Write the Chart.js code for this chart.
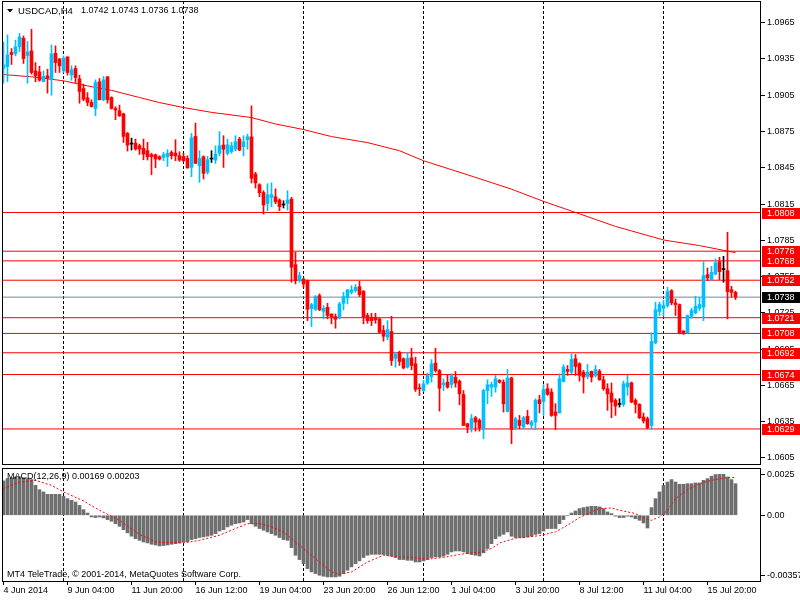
<!DOCTYPE html>
<html>
<head>
<meta charset="utf-8">
<title>USDCAD,H4</title>
<script src="https://cdn.jsdelivr.net/npm/chart.js@4.4.1/dist/chart.umd.min.js"></script>
<style>
  html, body { margin: 0; padding: 0; background: #fff; }
  #wrap { position: relative; width: 800px; height: 600px; overflow: hidden; }
  #priceChart { position: absolute; left: 0; top: 0; }
  #macdChart { position: absolute; left: 0; top: 467px; }
</style>
</head>
<body>
<div id="wrap">
  <canvas id="priceChart" width="800" height="467"></canvas>
  <canvas id="macdChart" width="800" height="133"></canvas>
</div>
<script>
const FONT = "'Liberation Sans', Arial, sans-serif";
const BULL = '#00bfff';
const BEAR = '#ff0000';
const DOJI = '#000000';

// Header texts
const symbolTitle = 'USDCAD,H4';
const lastOHLC = ['1.0742', '1.0743', '1.0736', '1.0738'];
const macdTitle = 'MACD(12,26,9) 0.00169 0.00203';
const copyright = 'MT4 TeleTrade, \u00A9 2001-2014, MetaQuotes Software Corp.';

// H4 candles, one per bar (bar 0 = 4 Jun 12:00)
const opens = [
  1.09271,1.09287,1.09403,1.09394,1.09450,1.09521,1.09378,1.09416,1.09251,1.09243,
  1.09163,1.09210,1.09183,1.09397,1.09350,1.09251,1.09367,1.09218,1.09271,1.09185,
  1.09105,1.09028,1.08990,1.08940,1.09161,1.09012,1.09202,1.09031,1.08940,1.08921,
  1.08896,1.08734,1.08646,1.08654,1.08632,1.08610,1.08591,1.08558,1.08558,1.08541,
  1.08536,1.08541,1.08577,1.08571,1.08549,1.08544,1.08527,1.08453,1.08709,1.08467,
  1.08541,1.08412,1.08522,1.08514,1.08569,1.08638,1.08569,1.08583,1.08604,1.08687,
  1.08624,1.08682,1.08706,1.08398,1.08310,1.08246,1.08155,1.08205,1.08210,1.08183,
  1.08142,1.08155,1.08191,1.07649,1.07517,1.07530,1.07517,1.07285,1.07280,1.07393,
  1.07263,1.07296,1.07241,1.07219,1.07219,1.07329,1.07374,1.07420,1.07434,1.07467,
  1.07429,1.07228,1.07214,1.07214,1.07200,1.07104,1.07049,1.07096,1.06875,1.06925,
  1.06870,1.06801,1.06878,1.06829,1.06630,1.06608,1.06669,1.06724,1.06834,1.06773,
  1.06655,1.06677,1.06658,1.06718,1.06685,1.06575,1.06333,1.06300,1.06383,1.06361,
  1.06286,1.06608,1.06636,1.06636,1.06691,1.06677,1.06435,1.06713,1.06300,1.06361,
  1.06306,1.06394,1.06320,1.06348,1.06532,1.06518,1.06623,1.06595,1.06430,1.06422,
  1.06683,1.06782,1.06760,1.06871,1.06829,1.06760,1.06725,1.06766,1.06733,1.06769,
  1.06697,1.06623,1.06587,1.06526,1.06493,1.06493,1.06637,1.06672,1.06526,1.06493,
  1.06389,1.06375,1.06319,1.07002,1.07261,1.07288,1.07310,1.07434,1.07332,1.07319,
  1.07101,1.07085,1.07222,1.07250,1.07288,1.07297,1.07566,1.07525,1.07572,1.07674,
  1.07608,1.07599,1.07442,1.07420
];
const highs = [
  1.09491,1.09549,1.09436,1.09505,1.09560,1.09540,1.09494,1.09595,1.09320,1.09290,
  1.09251,1.09265,1.09466,1.09458,1.09353,1.09375,1.09367,1.09293,1.09293,1.09216,
  1.09141,1.09072,1.09012,1.09177,1.09188,1.09205,1.09205,1.09037,1.08954,1.08968,
  1.08902,1.08742,1.08695,1.08687,1.08646,1.08687,1.08660,1.08571,1.08563,1.08549,
  1.08577,1.08599,1.08591,1.08682,1.08583,1.08569,1.08549,1.08734,1.08819,1.08591,
  1.08549,1.08544,1.08591,1.08632,1.08748,1.08715,1.08687,1.08660,1.08715,1.08701,
  1.08715,1.08728,1.08962,1.08412,1.08318,1.08260,1.08318,1.08326,1.08276,1.08194,
  1.08177,1.08260,1.08205,1.07751,1.07586,1.07539,1.07522,1.07329,1.07393,1.07407,
  1.07310,1.07329,1.07241,1.07241,1.07338,1.07420,1.07445,1.07475,1.07484,1.07511,
  1.07434,1.07247,1.07247,1.07247,1.07208,1.07145,1.07186,1.07222,1.06925,1.06933,
  1.06878,1.06925,1.06958,1.06884,1.06663,1.06691,1.06752,1.06864,1.06958,1.06782,
  1.06705,1.06740,1.06746,1.06765,1.06696,1.06608,1.06338,1.06410,1.06394,1.06374,
  1.06617,1.06696,1.06677,1.06732,1.06699,1.06696,1.06782,1.06718,1.06388,1.06402,
  1.06394,1.06444,1.06361,1.06540,1.06568,1.06656,1.06664,1.06623,1.06499,1.06747,
  1.06821,1.06815,1.06912,1.06906,1.06838,1.06774,1.06824,1.06769,1.06815,1.06782,
  1.06727,1.06664,1.06670,1.06540,1.06540,1.06686,1.06733,1.06678,1.06540,1.06499,
  1.06422,1.06389,1.07085,1.07338,1.07338,1.07352,1.07462,1.07442,1.07365,1.07324,
  1.07101,1.07233,1.07288,1.07387,1.07379,1.07674,1.07621,1.07635,1.07696,1.07710,
  1.07718,1.07916,1.07470,1.07430
];
const lows = [
  1.09149,1.09163,1.09304,1.09375,1.09411,1.09312,1.09149,1.09224,1.09161,1.09166,
  1.09161,1.09067,1.09050,1.09238,1.09238,1.09238,1.09216,1.09174,1.09155,1.08984,
  1.09004,1.08962,1.08951,1.08880,1.09012,1.09004,1.08984,1.08935,1.08847,1.08874,
  1.08659,1.08588,1.08596,1.08596,1.08560,1.08516,1.08514,1.08393,1.08450,1.08514,
  1.08508,1.08461,1.08522,1.08508,1.08503,1.08503,1.08448,1.08376,1.08486,1.08329,
  1.08357,1.08398,1.08494,1.08486,1.08549,1.08453,1.08555,1.08569,1.08591,1.08591,
  1.08549,1.08604,1.08324,1.08282,1.08211,1.08067,1.08095,1.08128,1.08153,1.08095,
  1.08117,1.08100,1.07503,1.07489,1.07503,1.07462,1.07186,1.07137,1.07269,1.07269,
  1.07200,1.07200,1.07159,1.07123,1.07200,1.07274,1.07324,1.07407,1.07420,1.07385,
  1.07159,1.07164,1.07145,1.07164,1.07082,1.07016,1.07027,1.06815,1.06801,1.06815,
  1.06787,1.06793,1.06779,1.06600,1.06567,1.06600,1.06658,1.06677,1.06760,1.06438,
  1.06608,1.06627,1.06630,1.06636,1.06490,1.06319,1.06259,1.06264,1.06272,1.06272,
  1.06209,1.06498,1.06559,1.06594,1.06669,1.06430,1.06430,1.06168,1.06286,1.06292,
  1.06292,1.06328,1.06292,1.06284,1.06422,1.06402,1.06568,1.06394,1.06284,1.06422,
  1.06678,1.06733,1.06747,1.06733,1.06686,1.06587,1.06705,1.06678,1.06719,1.06692,
  1.06609,1.06444,1.06383,1.06402,1.06471,1.06477,1.06568,1.06507,1.06422,1.06375,
  1.06339,1.06292,1.06286,1.06994,1.07228,1.07222,1.07297,1.07316,1.07228,1.07076,
  1.07071,1.07082,1.07206,1.07241,1.07269,1.07186,1.07517,1.07517,1.07564,1.07525,
  1.07503,1.07200,1.07379,1.07360
];
const closes = [
  1.09301,1.09383,1.09386,1.09450,1.09532,1.09353,1.09408,1.09238,1.09210,1.09174,
  1.09205,1.09191,1.09392,1.09320,1.09293,1.09356,1.09238,1.09260,1.09196,1.09081,
  1.09017,1.08990,1.08957,1.09155,1.09012,1.09177,1.09012,1.08940,1.08927,1.08880,
  1.08709,1.08637,1.08646,1.08604,1.08604,1.08563,1.08541,1.08541,1.08522,1.08522,
  1.08558,1.08569,1.08549,1.08549,1.08514,1.08508,1.08448,1.08698,1.08486,1.08527,
  1.08404,1.08516,1.08522,1.08563,1.08632,1.08604,1.08640,1.08632,1.08665,1.08596,
  1.08665,1.08706,1.08362,1.08324,1.08244,1.08142,1.08227,1.08227,1.08169,1.08128,
  1.08142,1.08183,1.07627,1.07517,1.07558,1.07489,1.07280,1.07318,1.07385,1.07274,
  1.07288,1.07228,1.07219,1.07197,1.07324,1.07385,1.07440,1.07440,1.07462,1.07401,
  1.07214,1.07186,1.07186,1.07192,1.07090,1.07057,1.07112,1.06856,1.06911,1.06848,
  1.06795,1.06875,1.06815,1.06617,1.06622,1.06663,1.06732,1.06829,1.06773,1.06627,
  1.06669,1.06636,1.06732,1.06669,1.06581,1.06319,1.06305,1.06374,1.06347,1.06300,
  1.06608,1.06655,1.06658,1.06705,1.06677,1.06498,1.06710,1.06286,1.06374,1.06320,
  1.06383,1.06334,1.06348,1.06526,1.06499,1.06615,1.06576,1.06402,1.06402,1.06705,
  1.06802,1.06766,1.06865,1.06807,1.06733,1.06719,1.06760,1.06719,1.06782,1.06697,
  1.06623,1.06581,1.06512,1.06479,1.06493,1.06664,1.06670,1.06512,1.06493,1.06383,
  1.06356,1.06301,1.07013,1.07277,1.07319,1.07310,1.07426,1.07332,1.07319,1.07085,
  1.07085,1.07228,1.07269,1.07305,1.07319,1.07558,1.07539,1.07586,1.07663,1.07591,
  1.07608,1.07426,1.07420,1.07380
];

// Moving average, read at these bars
const maIdx = [0, 7, 15, 21, 27, 34, 39, 45, 52, 62, 68, 75, 82, 91, 99, 105, 116, 127, 135, 144, 153, 165, 174, 183];
const maVals = [1.09221, 1.09202, 1.09169, 1.09127, 1.09090, 1.09031, 1.08989, 1.08948, 1.08908, 1.08865,
  1.08812, 1.08766, 1.08708, 1.08658, 1.08591, 1.08508, 1.08392, 1.08273, 1.08172, 1.08069,
  1.07965, 1.07853, 1.07806, 1.07748];

// Horizontal levels and current price
const levels = [1.0808, 1.0776, 1.0768, 1.0752, 1.0721, 1.0708, 1.0692, 1.0674, 1.0629];
const lastPrice = 1.0738;
const priceTicks = [1.0605, 1.0635, 1.0665, 1.0695, 1.0725, 1.0755, 1.0785, 1.0815, 1.0845, 1.0875, 1.0905, 1.0935, 1.0965];

// Time axis
const gridIdx = [15, 45, 75, 105, 135, 165];
const timeIdx = [0, 16, 32, 48, 64, 80, 96, 112, 128, 144, 160, 176];
const timeLabels = ['4 Jun 2014', '9 Jun 04:00', '11 Jun 20:00', '16 Jun 12:00', '19 Jun 04:00', '23 Jun 20:00',
  '26 Jun 12:00', '1 Jul 04:00', '3 Jul 20:00', '8 Jul 12:00', '11 Jul 04:00', '15 Jul 20:00'];

// MACD main (histogram), one per bar
const macd = [
  0.00184,0.00196,0.00201,0.00205,0.00205,0.00201,0.00196,0.00191,0.00160,0.00137,
  0.00125,0.00112,0.00112,0.00112,0.00112,0.00102,0.00089,0.00080,0.00071,0.00053,
  0.00030,0.00012,-0.00009,-0.00012,-0.00009,-0.00014,-0.00023,-0.00032,-0.00045,-0.00059,
  -0.00077,-0.00094,-0.00112,-0.00125,-0.00134,-0.00143,-0.00148,-0.00155,-0.00159,-0.00164,
  -0.00162,-0.00159,-0.00155,-0.00152,-0.00148,-0.00144,-0.00141,-0.00130,-0.00125,-0.00119,
  -0.00116,-0.00112,-0.00107,-0.00098,-0.00084,-0.00077,-0.00062,-0.00053,-0.00045,-0.00041,
  -0.00036,-0.00023,-0.00045,-0.00059,-0.00071,-0.00080,-0.00089,-0.00098,-0.00107,-0.00119,
  -0.00130,-0.00134,-0.00173,-0.00214,-0.00237,-0.00259,-0.00285,-0.00303,-0.00312,-0.00321,
  -0.00326,-0.00330,-0.00330,-0.00330,-0.00326,-0.00312,-0.00294,-0.00276,-0.00259,-0.00244,
  -0.00226,-0.00214,-0.00209,-0.00209,-0.00209,-0.00210,-0.00214,-0.00219,-0.00226,-0.00237,
  -0.00237,-0.00241,-0.00241,-0.00250,-0.00250,-0.00244,-0.00237,-0.00226,-0.00223,-0.00223,
  -0.00219,-0.00209,-0.00196,-0.00191,-0.00191,-0.00196,-0.00205,-0.00210,-0.00214,-0.00218,
  -0.00201,-0.00178,-0.00152,-0.00125,-0.00112,-0.00102,-0.00089,-0.00112,-0.00119,-0.00119,
  -0.00119,-0.00116,-0.00112,-0.00102,-0.00098,-0.00084,-0.00071,-0.00071,-0.00071,-0.00045,
  -0.00023,-0.00002,0.00012,0.00023,0.00036,0.00041,0.00045,0.00048,0.00048,0.00045,
  0.00036,0.00018,0.00009,-0.00005,-0.00012,-0.00012,-0.00005,-0.00009,-0.00018,-0.00027,
  -0.00041,-0.00068,0.00041,0.00089,0.00125,0.00160,0.00178,0.00191,0.00178,0.00166,
  0.00166,0.00169,0.00169,0.00173,0.00173,0.00187,0.00196,0.00209,0.00218,0.00219,
  0.00219,0.00205,0.00191,0.00169
];
// MACD signal, read at these bars
const sigIdx = [0, 4, 8, 12, 15, 20, 24, 29, 34, 38, 45, 49, 54, 58, 61, 64, 67, 70, 74, 79,
  82, 84, 87, 91, 95, 99, 102, 106, 110, 114, 119, 122, 124, 128, 131, 134, 138, 141, 144, 147,
  149, 152, 154, 158, 161, 162, 164, 166, 168, 171, 174, 177, 180, 183];
const sigVals = [0.00143, 0.00177, 0.00187, 0.00160, 0.00125, 0.00077, 0.00027, -0.00027, -0.00102, -0.00143,
  -0.00148, -0.00134, -0.00107, -0.00071, -0.00045, -0.00045, -0.00062, -0.00089, -0.00160, -0.00250,
  -0.00303, -0.00316, -0.00303, -0.00250, -0.00214, -0.00223, -0.00226, -0.00235, -0.00226, -0.00209,
  -0.00198, -0.00178, -0.00148, -0.00123, -0.00116, -0.00109, -0.00089, -0.00053, -0.00012, 0.00018,
  0.00036, 0.00039, 0.00027, 0.00009, -0.00023, -0.00027, -0.00009, 0.00027, 0.00089, 0.00137,
  0.00169, 0.00187, 0.00200, 0.00203];
const macdTickPos = [0.00216, 0, -0.00323];
const macdTickText = ['0.0025', '0.00', '-0.00357'];

// Scale ranges (4 px per bar, price axis as in the terminal)
const X_MIN = -0.375, X_MAX = 189.375;
const Y_MIN = 1.05992, Y_MAX = 1.09829;
const M_MIN = -0.00357, M_MAX = 0.00253;

const barIdx = opens.map((o, i) => i);
const candleColors = opens.map((o, i) => closes[i] > o ? BULL : (closes[i] < o ? BEAR : DOJI));

// Plugins
const framePlugin = {
  id: 'frame',
  afterDraw(chart) {
    const { ctx, chartArea: a } = chart;
    ctx.save();
    ctx.strokeStyle = '#000';
    ctx.lineWidth = 1;
    ctx.strokeRect(a.left + 0.5, a.top + 0.5, a.right - a.left - 1, a.bottom - a.top - 1);
    ctx.restore();
  }
};

const headerPlugin = {
  id: 'header',
  afterDraw(chart) {
    const ctx = chart.ctx;
    ctx.save();
    ctx.fillStyle = '#000';
    ctx.beginPath();
    ctx.moveTo(7, 9);
    ctx.lineTo(13, 9);
    ctx.lineTo(10, 12.5);
    ctx.closePath();
    ctx.fill();
    ctx.font = '9.5px ' + FONT;
    ctx.textBaseline = 'middle';
    ctx.fillText(symbolTitle, 18, 11);
    ctx.font = '9px ' + FONT;
    ctx.fillText(lastOHLC.join(' '), 81, 11);
    ctx.restore();
  }
};

function drawTag(ctx, left, y, bg, text) {
  ctx.fillStyle = bg;
  ctx.fillRect(left, y - 5, 800 - left, 11);
  ctx.fillStyle = '#fff';
  ctx.fillText(text, left + 5, y + 0.5);
}

const levelTagPlugin = {
  id: 'levelTags',
  afterDraw(chart) {
    const ctx = chart.ctx;
    const ys = chart.scales.y;
    const left = Math.round(chart.chartArea.right) + 1;
    ctx.save();
    ctx.font = '9px ' + FONT;
    ctx.textBaseline = 'middle';
    levels.forEach(lv => drawTag(ctx, left, Math.round(ys.getPixelForValue(lv)), '#ff0000', lv.toFixed(4)));
    drawTag(ctx, left, Math.round(ys.getPixelForValue(lastPrice)), '#000000', lastPrice.toFixed(4));
    ctx.restore();
  }
};

const macdTextPlugin = {
  id: 'macdText',
  afterDraw(chart) {
    const ctx = chart.ctx;
    ctx.save();
    ctx.fillStyle = '#000';
    ctx.font = '9px ' + FONT;
    ctx.textBaseline = 'middle';
    ctx.fillText(macdTitle, 7, 10);
    ctx.fillText(copyright, 7, 108);
    ctx.restore();
  }
};

// Shared axis pieces
function gridAxis() {
  return {
    type: 'linear', min: X_MIN, max: X_MAX, offset: false,
    afterBuildTicks: s => { s.ticks = gridIdx.map(v => ({ value: v })); },
    afterFit: s => { s.height = 0; s.paddingLeft = 0; s.paddingRight = 0; },
    ticks: { display: false, autoSkip: false },
    grid: { color: '#000', lineWidth: 1, drawTicks: false, offset: false },
    border: { display: false, dash: [3, 2] }
  };
}

// Price chart
const levelSets = levels.map(lv => ({
  type: 'line',
  data: [{ x: X_MIN - 1, y: lv }, { x: X_MAX + 1, y: lv }],
  borderColor: '#ff0000', borderWidth: 1, pointRadius: 0, order: 4
}));

new Chart(document.getElementById('priceChart'), {
  type: 'bar',
  data: {
    datasets: [
      {
        label: 'wick',
        data: barIdx.map(i => ({ x: i, y: [lows[i], highs[i]] })),
        backgroundColor: candleColors, barThickness: 1, grouped: false, order: 1
      },
      {
        label: 'body',
        data: barIdx.map(i => ({ x: i, y: [opens[i], closes[i]] })),
        backgroundColor: candleColors, barThickness: 3, minBarLength: 1, grouped: false, order: 0
      },
      {
        type: 'line', label: 'MA',
        data: maIdx.map((x, k) => ({ x: x, y: maVals[k] })),
        borderColor: '#ff0000', borderWidth: 1, pointRadius: 0, tension: 0, order: 3
      },
      ...levelSets,
      {
        type: 'line', label: 'last',
        data: [{ x: X_MIN - 1, y: lastPrice }, { x: X_MAX + 1, y: lastPrice }],
        borderColor: '#778899', borderWidth: 1, pointRadius: 0, order: 4
      }
    ]
  },
  options: {
    responsive: false, animation: false, devicePixelRatio: 1, events: [],
    layout: { padding: { left: 2, top: 1, right: 0, bottom: 2 } },
    plugins: { legend: { display: false }, tooltip: { enabled: false } },
    scales: {
      x: gridAxis(),
      y: {
        position: 'right', min: Y_MIN, max: Y_MAX, beginAtZero: false,
        afterBuildTicks: s => { s.ticks = priceTicks.map(v => ({ value: v })); },
        afterFit: s => { s.width = 39; s.paddingTop = 0; s.paddingBottom = 0; },
        ticks: { callback: v => v.toFixed(4), color: '#000', font: { family: FONT, size: 9 }, padding: 2, autoSkip: false },
        grid: { drawOnChartArea: false, drawTicks: true, tickLength: 4, color: '#000' },
        border: { display: false }
      }
    }
  },
  plugins: [framePlugin, headerPlugin, levelTagPlugin]
});

// MACD chart
new Chart(document.getElementById('macdChart'), {
  type: 'bar',
  data: {
    datasets: [
      {
        type: 'line', label: 'signal',
        data: sigIdx.map((x, k) => ({ x: x, y: sigVals[k] })),
        borderColor: '#ff0000', borderWidth: 1, borderDash: [2, 2], pointRadius: 0, tension: 0, order: 0
      },
      {
        label: 'macd',
        data: macd.map((v, i) => ({ x: i, y: v })),
        backgroundColor: '#6e6e6e', barThickness: 3, grouped: false, order: 1
      }
    ]
  },
  options: {
    responsive: false, animation: false, devicePixelRatio: 1, events: [],
    layout: { padding: { left: 2, top: 1, right: 0, bottom: 0 } },
    plugins: { legend: { display: false }, tooltip: { enabled: false } },
    scales: {
      x: gridAxis(),
      xl: {
        type: 'linear', position: 'bottom', min: X_MIN, max: X_MAX, offset: false,
        afterBuildTicks: s => { s.ticks = timeIdx.map(v => ({ value: v })); },
        afterFit: s => { s.height = 18; s.paddingLeft = 0; s.paddingRight = 0; },
        ticks: {
          callback: (v, i) => timeLabels[i], align: 'start', maxRotation: 0, minRotation: 0,
          autoSkip: false, padding: 0, color: '#000', font: { family: FONT, size: 9 }
        },
        grid: { drawOnChartArea: false, drawTicks: true, tickLength: 3, color: '#000', offset: false },
        border: { display: false }
      },
      y: {
        position: 'right', min: M_MIN, max: M_MAX, beginAtZero: false,
        afterBuildTicks: s => { s.ticks = macdTickPos.map(v => ({ value: v })); },
        afterFit: s => { s.width = 39; s.paddingTop = 0; s.paddingBottom = 0; },
        ticks: { callback: (v, i) => macdTickText[i], color: '#000', font: { family: FONT, size: 9 }, padding: 2, autoSkip: false },
        grid: { drawOnChartArea: false, drawTicks: true, tickLength: 4, color: '#000' },
        border: { display: false }
      }
    }
  },
  plugins: [framePlugin, macdTextPlugin]
});
</script>
</body>
</html>
